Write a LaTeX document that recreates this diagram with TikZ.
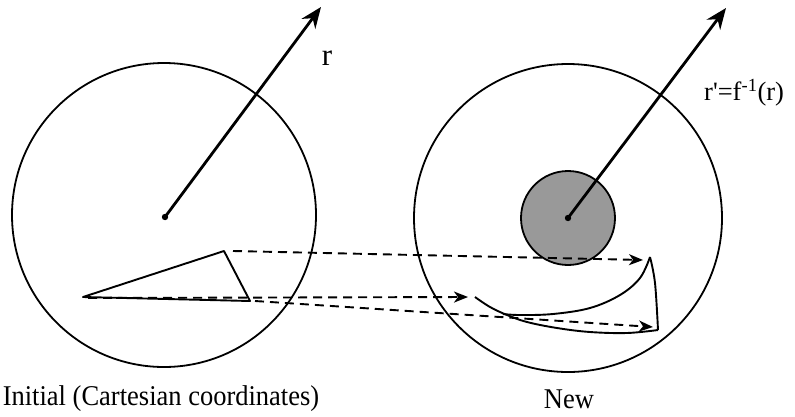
\documentclass[tikz,border=0pt]{standalone}
\usepackage{fontspec}
\setmainfont{Liberation Serif}[Ligatures=TeXOff]
\usetikzlibrary{arrows.meta}
\begin{document}
\begin{tikzpicture}[x=1pt,y=-1pt,
  ring/.style={line width=1.8pt},
  radius arrow/.style={line width=2.8pt,-{Stealth[length=21pt,width=17pt,inset=7pt]}},
  map arrow/.style={line width=1.9pt,dash pattern=on 9pt off 6pt,-{Stealth[length=14pt,width=11pt,inset=4pt]}},
  lbl/.style={font=\fontsize{26.5}{30}\selectfont,inner sep=0pt},
  edge line/.style={line width=1.9pt,line join=round}]
\useasboundingbox (0,0) rectangle (795,416);
% centres
\coordinate (c1) at (165,217);
\coordinate (c2) at (568,218);
% circles
\draw[ring] (164,215) circle[radius=152];
\draw[ring] (568,218) circle[radius=154];
\draw[ring,fill=black!40] (c2) circle[radius=47];
% radius arrows
\coordinate (t1) at (321,7);
\coordinate (t2) at (726,8);
\draw[radius arrow] (c1) -- (t1);
\draw[radius arrow] (c2) -- (t2);
\fill (c1) circle[radius=3.2];
\fill (c2) circle[radius=3.2];
% labels
\node[lbl,font=\fontsize{31}{34}\selectfont] (r) at (327,58) {r};
\node[lbl,anchor=west] (rp) at (704,93) {r'=f\textsuperscript{-1}(r)};
\node[lbl,yscale=1.08] (init) at (161,399) {Initial (Cartesian coordinates)};
\node[lbl,yscale=1.08] (new) at (569,399) {New};
% triangle
\coordinate (A) at (83,297);
\coordinate (B) at (224,251);
\coordinate (C) at (250,301);
\draw[edge line] (A) -- (B) -- (C) -- cycle;
% mapped shape
\coordinate (A2) at (475,297);
\coordinate (B2) at (650,257);
\coordinate (C2) at (658,330);
\draw[edge line] plot[smooth,tension=0.6] coordinates {(A2) (490,307) (507,315) (527,322) (557,328) (590,332) (627,333) (C2)};
\draw[edge line] plot[smooth,tension=0.6] coordinates {(B2) (640,278) (620,295) (590,308) (553,314) (520,315) (503,314)};
\draw[edge line] plot[smooth,tension=0.6] coordinates {(B2) (655,283) (C2)};
% dashed mappings
\draw[map arrow] (233,251) -- (643,260);
\draw[map arrow] (88,298) -- (468,297);
\draw[map arrow] (255,301) -- (653,327);
\end{tikzpicture}
\end{document}
